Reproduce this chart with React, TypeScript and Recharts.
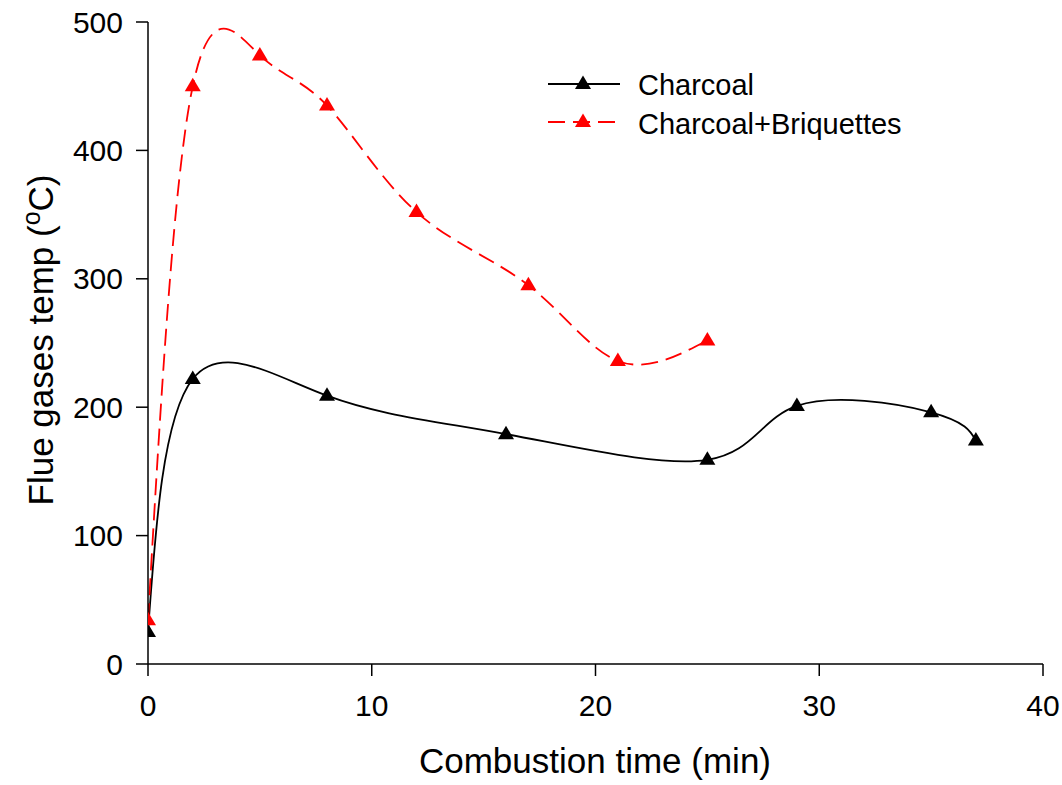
import { LineChart, Line, XAxis, YAxis } from "recharts";

// combustion time (min) vs flue gas temperature (°C)
const charcoalTime = [0, 2, 8, 16, 25, 29, 35, 37];
const charcoalTemp = [25, 222, 209, 179, 159, 201, 196, 174];

const blendTime = [0, 2, 5, 8, 12, 17, 21, 25];
const blendTemp = [34, 450, 474, 435, 352, 295, 236, 252];

const xTicks = [0, 10, 20, 30, 40];
const yTicks = [0, 100, 200, 300, 400, 500];

const charcoal = charcoalTime.map((t, i) => ({ time: t, temp: charcoalTemp[i] }));
const blend = blendTime.map((t, i) => ({ time: t, temp: blendTemp[i] }));

const FONT = "'Liberation Sans', Arial, sans-serif";

const triPath = (cx: number, cy: number) =>
  `M${cx},${cy - 8.5} L${cx + 8},${cy + 5} L${cx - 8},${cy + 5} Z`;

const Triangle = (color: string) => (props: any) => {
  const { cx, cy, key } = props;
  if (cx == null || cy == null) return null;
  return <path key={key} d={triPath(cx, cy)} fill={color} />;
};

const YLabel = () => (
  <text
    x={53}
    y={340}
    transform="rotate(-90, 53, 340)"
    textAnchor="middle"
    fontSize={35}
    fontFamily={FONT}
    fill="#000"
  >
    Flue gases temp (<tspan dy={-13} fontSize={25}>o</tspan>
    <tspan dy={13}>C)</tspan>
  </text>
);

const XLabel = () => (
  <text x={595} y={773} textAnchor="middle" fontSize={35} fontFamily={FONT} fill="#000">
    Combustion time (min)
  </text>
);

export default function App() {
  return (
    <div style={{ position: "absolute", left: 0, top: 0, width: 1062, height: 785, background: "#fff" }}>
      <LineChart width={1062} height={785} margin={{ top: 22, right: 19, bottom: 0, left: 0 }}>
        <XAxis
          type="number"
          dataKey="time"
          domain={[0, 40]}
          ticks={xTicks}
          allowDataOverflow
          stroke="#000"
          strokeWidth={1.5}
          tickSize={12}
          tickMargin={19}
          height={121}
          tick={{ fontSize: 30, fontFamily: FONT, fill: "#000" }}
          label={<XLabel />}
        />
        <YAxis
          type="number"
          domain={[0, 500]}
          ticks={yTicks}
          stroke="#000"
          strokeWidth={1.5}
          tickSize={12}
          tickMargin={13}
          width={148}
          tick={{ fontSize: 30, fontFamily: FONT, fill: "#000" }}
          label={<YLabel />}
        />
        <Line
          data={charcoal}
          dataKey="temp"
          type="natural"
          stroke="#000"
          strokeWidth={1.8}
          dot={Triangle("#000")}
          isAnimationActive={false}
          name="Charcoal"
        />
        <Line
          data={blend}
          dataKey="temp"
          type="natural"
          stroke="red"
          strokeWidth={1.8}
          strokeDasharray="17 8"
          dot={Triangle("red")}
          isAnimationActive={false}
          name="Charcoal+Briquettes"
        />
      </LineChart>
      <svg
        width={420}
        height={80}
        style={{ position: "absolute", left: 540, top: 60, overflow: "visible" }}
      >
        <line x1={8} y1={24} x2={80} y2={24} stroke="#000" strokeWidth={1.8} />
        <path d={triPath(43, 24)} fill="#000" />
        <text x={98} y={35} fontSize={29} fontFamily={FONT}>Charcoal</text>
        <line x1={8} y1={62} x2={80} y2={62} stroke="red" strokeWidth={1.8} strokeDasharray="17 8" />
        <path d={triPath(43, 62)} fill="red" />
        <text x={98} y={74} fontSize={29} fontFamily={FONT}>Charcoal+Briquettes</text>
      </svg>
    </div>
  );
}
